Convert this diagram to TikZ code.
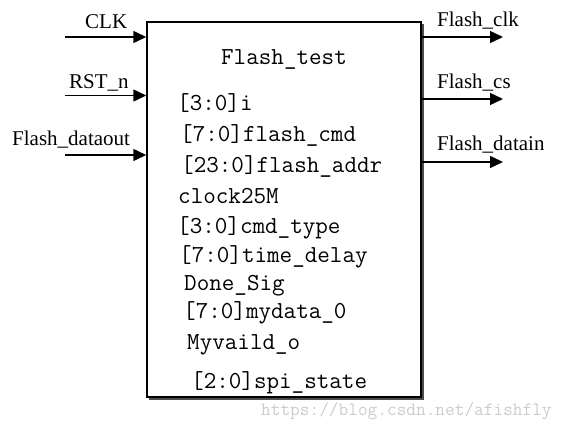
\documentclass[tikz,border=0pt]{standalone}
\usepackage{fontspec}
\setmainfont{Liberation Serif}
\usetikzlibrary{arrows.meta}
\tikzset{
  lbl/.style={font=\fontsize{21}{24}\selectfont, inner sep=0pt, anchor=base west},
  mono/.style={font=\ttfamily\fontsize{24.4}{28}\selectfont, inner sep=0pt, anchor=base west},
  sig/.style={line width=1.5pt, -{Triangle[length=13pt,width=12pt]}},
  blk/.style={draw, line width=1.5pt, minimum width=274pt, minimum height=375pt, inner sep=0pt},
  wm/.style={font=\ttfamily\fontsize{18.8}{22}\selectfont, text=black!20, inner sep=0pt, anchor=base west}
}
\begin{document}
\begin{tikzpicture}[x=1pt,y=-1pt]
\useasboundingbox (0,0) rectangle (573,431);
% shadow
\draw[line width=1.2pt, black!70] (423,24) -- (423,399) -- (149,399);
\node[blk] (box) at (284,209.5) {};
% inputs
\coordinate (iclk) at (65,37);
\coordinate (irst) at (65,95.5);
\coordinate (idat) at (65,155);
\draw[sig] (iclk) -- (box.west |- iclk);
\draw[sig] (irst) -- (box.west |- irst);
\draw[sig] (idat) -- (box.west |- idat);
\node[lbl] (lclk) at (85,28) {CLK};
\node[lbl] (lrst) at (69,88) {RST\_n};
\node[lbl] (ldat) at (12,145) {Flash\_dataout};
% outputs
\coordinate (oclk) at (503,37);
\coordinate (ocs) at (503,99);
\coordinate (odat) at (503,162);
\draw[sig] (box.east |- oclk) -- (oclk);
\draw[sig] (box.east |- ocs) -- (ocs);
\draw[sig] (box.east |- odat) -- (odat);
\node[lbl] (loclk) at (437,27) {Flash\_clk};
\node[lbl] (locs) at (437,88) {Flash\_cs};
\node[lbl] (lodat) at (437,150) {Flash\_datain};
% contents
\node[mono, anchor=base] (title) at (284,64) {Flash\_test};
\node[mono] (t1) at (177,110) {[3:0]i};
\node[mono] (t2) at (180,141) {[7:0]flash\_cmd};
\node[mono] (t3) at (181,172) {[23:0]flash\_addr};
\node[mono] (t4) at (178,203) {clock25M};
\node[mono] (t5) at (177,233) {[3:0]cmd\_type};
\node[mono] (t6) at (179,262) {[7:0]time\_delay};
\node[mono] (t7) at (184,290) {Done\_Sig};
\node[mono] (t8) at (183,318) {[7:0]mydata\_0};
\node[mono] (t9) at (187,349) {Myvaild\_o};
\node[mono] (t10) at (191,388) {[2:0]spi\_state};
% watermark
\node[wm] (wmk) at (261,415) {https://blog.csdn.net/afishfly};
\end{tikzpicture}
\end{document}
